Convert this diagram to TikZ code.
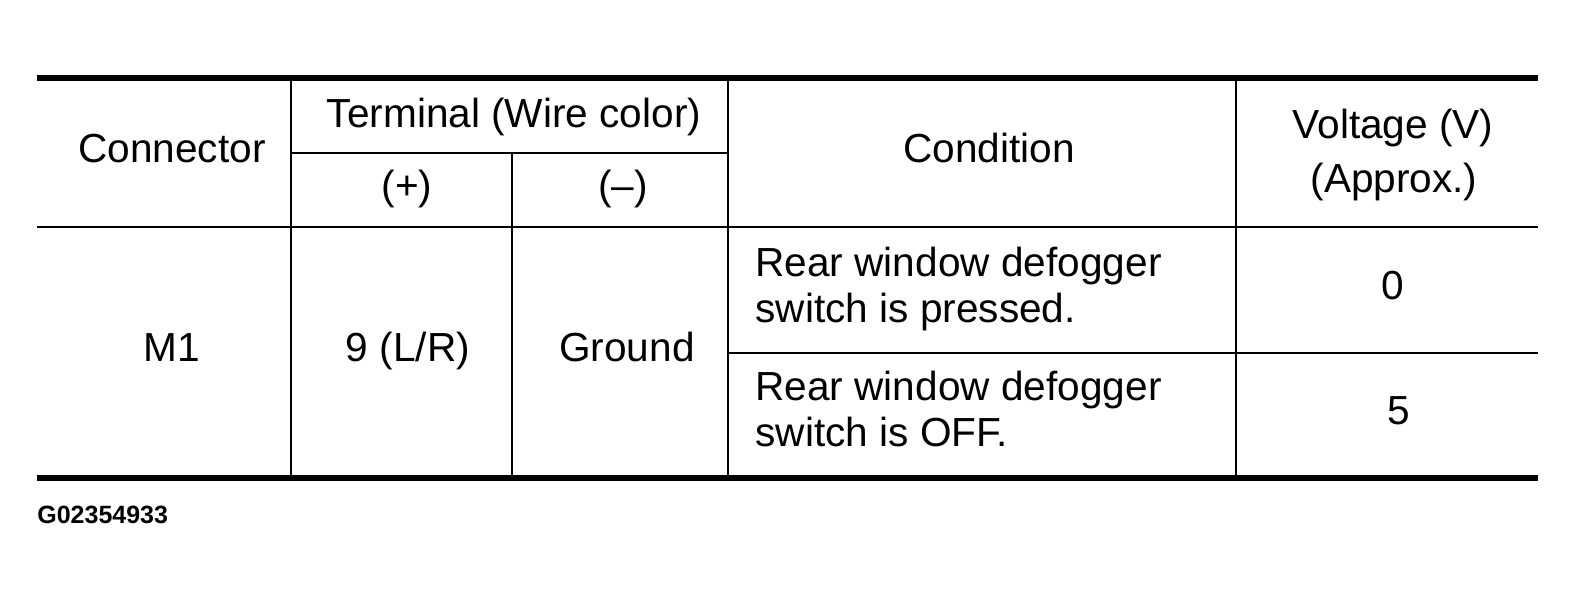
\documentclass[tikz,border=0pt]{standalone}
\usepackage{fontspec}
\setmainfont{Liberation Sans}
\tikzset{
  rule/.style={line width=3pt},
  cell/.style={line width=1pt},
  txt/.style={anchor=base, inner sep=0pt, font=\fontsize{20.3}{24}\selectfont},
  txtl/.style={txt, anchor=base west}
}
\begin{document}
\begin{tikzpicture}[x=0.5pt, y=-0.5pt]
\useasboundingbox (0, 0) rectangle (1576, 600);
\draw[rule] (37, 78) -- (1538, 78);
\draw[rule] (37, 478) -- (1538, 478);
\draw[cell] (291, 78) -- (291, 478);
\draw[cell] (512, 153) -- (512, 478);
\draw[cell] (728, 78) -- (728, 478);
\draw[cell] (1236, 78) -- (1236, 478);
\draw[cell] (291, 153) -- (728, 153);
\draw[cell] (37, 227) -- (1538, 227);
\draw[cell] (728, 353) -- (1538, 353);
\node[txt] (conn) at (172, 162) {Connector};
\node[txt] (term) at (514, 127) {Terminal (Wire color)};
\node[txt] (plus) at (407, 199) {(+)};
\node[txt] (minus) at (623, 199) {(–)};
\node[txt] (cond) at (989, 162) {Condition};
\node[txt] (volt) at (1393, 138) {Voltage (V)};
\node[txt] (approx) at (1394, 192) {(Approx.)};
\node[txt] (mone) at (172, 361) {M1};
\node[txt] (pin) at (408, 361) {9 (L/R)};
\node[txt] (gnd) at (627, 361) {Ground};
\node[txtl] (pressa) at (755, 276) {Rear window defogger};
\node[txtl] (pressb) at (755, 322) {switch is pressed.};
\node[txtl] (offa) at (755, 400) {Rear window defogger};
\node[txtl] (offb) at (755, 446) {switch is OFF.};
\node[txt] (vzero) at (1393, 299) {0};
\node[txt] (vfive) at (1399, 424) {5};
\node[anchor=base west, inner sep=0pt, font=\fontsize{12.5}{15}\selectfont\bfseries] (fig) at (37, 523) {G02354933};
\end{tikzpicture}
\end{document}
